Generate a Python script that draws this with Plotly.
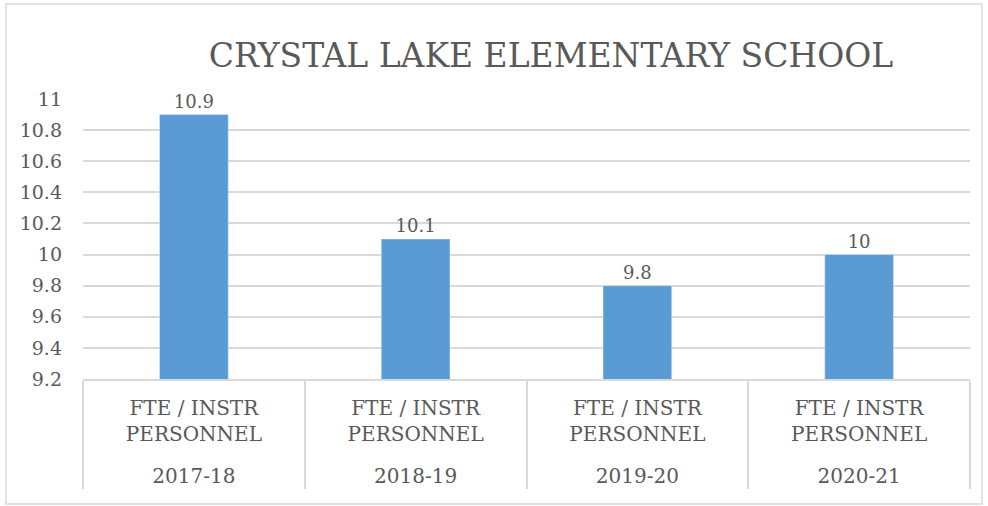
import plotly.graph_objects as go

years = ["2017-18", "2018-19", "2019-20", "2020-21"]
metric = ["FTE / INSTR<br>PERSONNEL<br> "] * 4
values = [10.9, 10.1, 9.8, 10]
labels = ["10.9", "10.1", "9.8", "10"]

W, H = 988, 506
L, R, T, B = 83, 18, 99, 127
pw, ph = W - L - R, H - T - B

font = "DejaVu Serif"
grey = "#595959"

fig = go.Figure()
fig.add_trace(go.Bar(
    x=[years, metric],
    y=values,
    text=labels,
    textposition="outside",
    textfont=dict(size=18, color=grey, family=font),
    marker=dict(color="#5b9bd5"),
    width=0.31,
    cliponaxis=False,
))

# outer chart border
fig.add_shape(
    type="rect", xref="paper", yref="paper",
    x0=(6 - L) / pw, x1=(982 - L) / pw,
    y0=(H - B - 504) / ph, y1=(H - B - 4) / ph,
    line=dict(color="#d9d9d9", width=1.5), layer="below",
)

fig.update_layout(
    width=W, height=H,
    margin=dict(l=L, r=R, t=T, b=B, autoexpand=False),
    plot_bgcolor="white", paper_bgcolor="white",
    showlegend=False,
    font=dict(family=font, color=grey, size=19),
    title=dict(
        text="CRYSTAL LAKE ELEMENTARY SCHOOL",
        x=551 / W, xanchor="center", xref="container",
        y=1 - 55 / H, yanchor="middle",
        font=dict(size=33, color=grey, family=font),
    ),
)
fig.update_yaxes(
    range=[9.2, 11], dtick=0.2, tickformat="~g",
    showgrid=True, gridcolor="#d9d9d9", gridwidth=1.5,
    zeroline=False, showline=False, ticks="", automargin=False,
    tickfont=dict(size=19, color=grey, family=font), ticklabelstandoff=20,
)
fig.update_xaxes(
    showline=True, linecolor="#d9d9d9", linewidth=1.5, automargin=False,
    showdividers=True, dividercolor="#d9d9d9", dividerwidth=1.5,
    tickfont=dict(size=20, color=grey, family=font), ticks="",
    ticklabelstandoff=10,
)

# drop the default page margin so the figure sits at the window origin
fig.write_html("out.html", config={"displayModeBar": False},
               post_script="document.body.style.margin='0';")
